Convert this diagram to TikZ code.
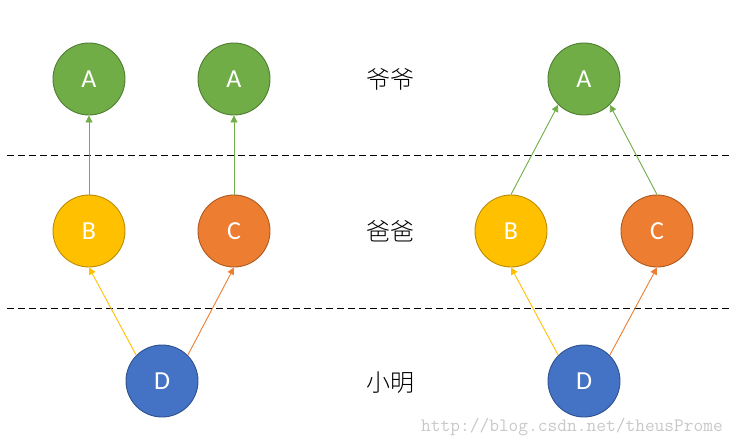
\documentclass[tikz,border=0pt]{standalone}
\usepackage{fontspec}
\setmainfont{Carlito}
\newfontfamily\cjkfont{Noto Sans CJK SC Light}
\usetikzlibrary{arrows.meta}
\definecolor{gfill}{HTML}{70AD47}\definecolor{gdraw}{HTML}{507E32}
\definecolor{yfill}{HTML}{FFC000}\definecolor{ydraw}{HTML}{BC8C00}
\definecolor{ofill}{HTML}{ED7D31}\definecolor{odraw}{HTML}{AE5A21}
\definecolor{bfill}{HTML}{4472C4}\definecolor{bdraw}{HTML}{2F528F}
\definecolor{wmark}{RGB}{200,200,200}
\tikzset{
  person/.style={circle, minimum size=72pt, inner sep=0pt, line width=0.9pt, text=white, font=\fontsize{26}{26}\selectfont},
  gnode/.style={person, fill=gfill, draw=gdraw},
  ynode/.style={person, fill=yfill, draw=ydraw},
  onode/.style={person, fill=ofill, draw=odraw},
  bnode/.style={person, fill=bfill, draw=bdraw},
  link/.style={line width=0.9pt, -{Triangle[length=7pt,width=7pt]}},
  level/.style={font=\cjkfont\fontsize{24}{24}\selectfont},
  divider/.style={line width=1pt, dash pattern=on 7pt off 4pt}
}
\begin{document}
\begin{tikzpicture}[x=1pt,y=-1pt]
\useasboundingbox (0,0) rectangle (740,445);
% dividers
\coordinate (l1a) at (7,155); \coordinate (l1b) at (731,155);
\coordinate (l2a) at (7,308); \coordinate (l2b) at (731,308);
\draw[divider] (l1a) -- (l1b);
\draw[divider] (l2a) -- (l2b);
% left group
\node[gnode] (A1) at (89,79) {A};
\node[gnode] (A2) at (234,79) {A};
\node[ynode] (B1) at (89,231) {B};
\node[onode] (C1) at (234,231) {C};
\node[bnode] (D1) at (162,381) {D};
% right group
\node[gnode] (A3) at (584,79) {A};
\node[ynode] (B2) at (511,231) {B};
\node[onode] (C2) at (657,231) {C};
\node[bnode] (D2) at (584,381) {D};
% labels
\node[level] (L1) at (390,79) {爷爷};
\node[level] (L2) at (390,231) {爸爸};
\node[level] (L3) at (390,383) {小明};
% arrows
\draw[link, gfill] (B1.north) -- (A1.south);
\draw[link, gfill] (C1.north) -- (A2.south);
\draw[link, yfill] (D1.north west) -- (B1.south);
\draw[link, ofill] (D1.north east) -- (C1.south);
\draw[link, gfill] (B2.north) -- (A3.south west);
\draw[link, gfill] (C2.north) -- (A3.south east);
\draw[link, yfill] (D2.north west) -- (B2.south);
\draw[link, ofill] (D2.north east) -- (C2.south);
% watermark
\node[text=wmark, font=\ttfamily\fontsize{18.9}{19}\selectfont] (wm) at (572,427) {http://blog.csdn.net/theusProme};
\end{tikzpicture}
\end{document}
